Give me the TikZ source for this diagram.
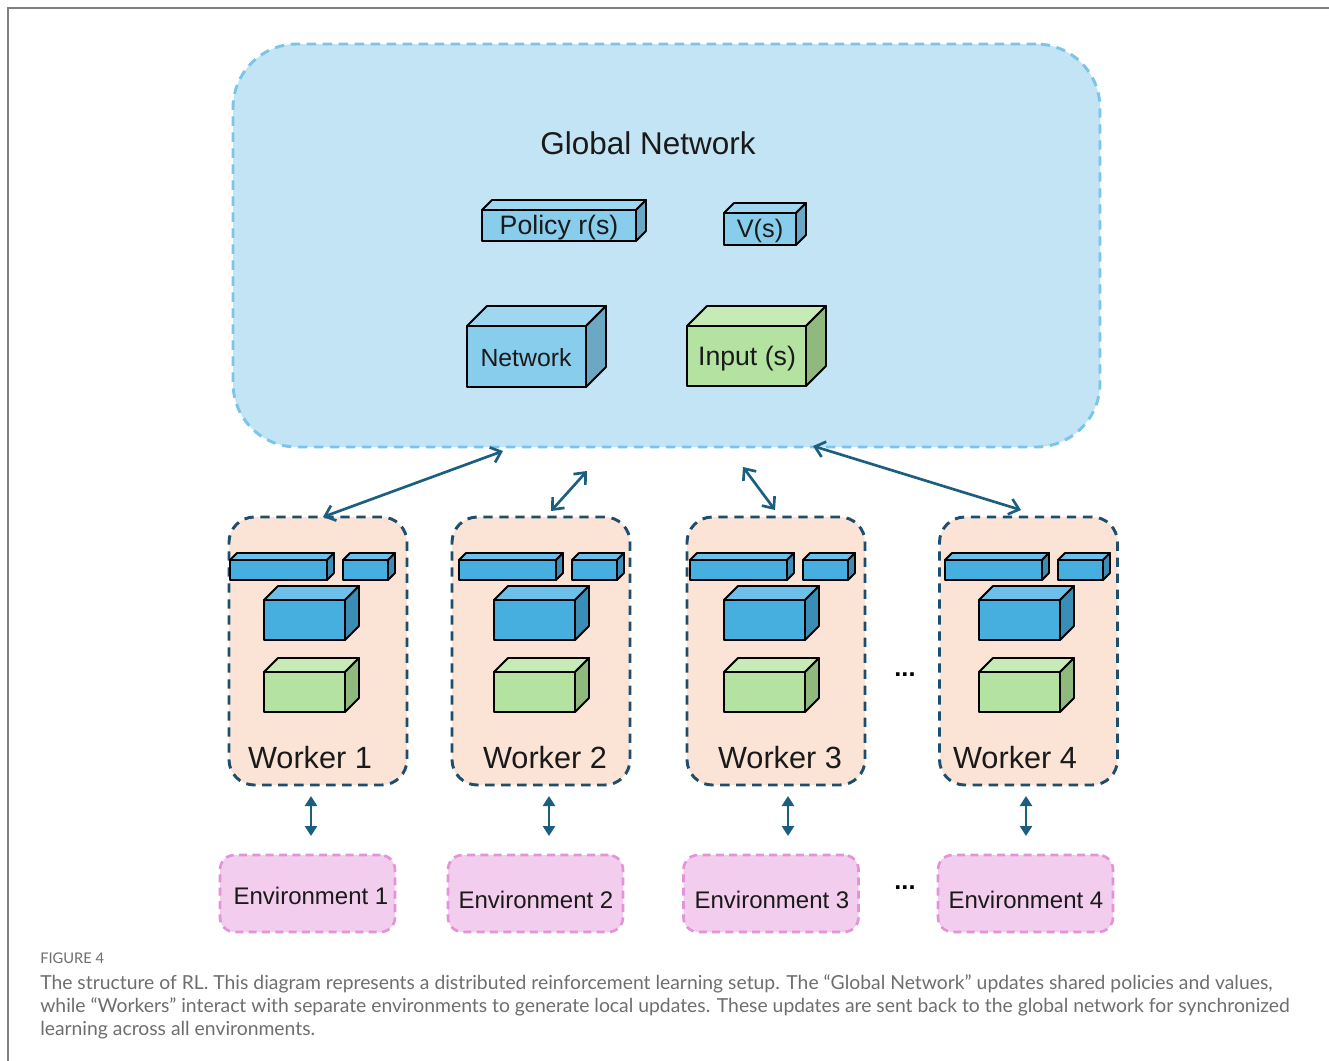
\documentclass[tikz,border=0pt]{standalone}
\usepackage{fontspec}
\setmainfont{Liberation Sans}
\newfontfamily\capfont{Lato}
\usetikzlibrary{arrows.meta}
\definecolor{gfill}{HTML}{C2E4F4}
\definecolor{gline}{HTML}{7AC6EA}
\definecolor{wfill}{HTML}{FBE3D6}
\definecolor{wline}{HTML}{1E4E6B}
\definecolor{efill}{HTML}{F2CDEE}
\definecolor{eline}{HTML}{E593D9}
\definecolor{arr}{HTML}{1B5E80}
\definecolor{lbfront}{HTML}{88CDEB}
\definecolor{lbtop}{HTML}{9FD7F0}
\definecolor{lbside}{HTML}{6BA8C3}
\definecolor{bfront}{HTML}{47AEE0}
\definecolor{btop}{HTML}{6CC0EA}
\definecolor{bside}{HTML}{3A8DB5}
\definecolor{gnfront}{HTML}{B4E2A1}
\definecolor{gntop}{HTML}{C6EBB6}
\definecolor{gnside}{HTML}{8FB97D}
\definecolor{captxt}{HTML}{6E6E6E}
\definecolor{txt}{HTML}{1A1A1A}
\newcommand\drawcube[8]{%
  \filldraw[fill=#6,cubeline] (#1,#2) rectangle (#3,#4);
  \filldraw[fill=#7,cubeline] (#1,#2) -- (#1+#5,#2-#5) -- (#3+#5,#2-#5) -- (#3,#2) -- cycle;
  \filldraw[fill=#8,cubeline] (#3,#2) -- (#3+#5,#2-#5) -- (#3+#5,#4-#5) -- (#3,#4) -- cycle;
}
\begin{document}
\begin{tikzpicture}[x=0.75pt,y=-0.75pt,
  cubeline/.style={draw=black,line width=1.4pt,line join=round},
  globalbox/.style={draw=gline,fill=gfill,line width=2.2pt,dash pattern=on 7pt off 5pt,rounded corners=48pt},
  workerbox/.style={draw=wline,fill=wfill,line width=2.2pt,dash pattern=on 7pt off 5pt,rounded corners=19pt,minimum width=133.5pt,minimum height=201pt,inner sep=0pt},
  envbox/.style={draw=eline,fill=efill,line width=2pt,dash pattern=on 6pt off 4pt,rounded corners=11pt,minimum width=131.25pt,minimum height=57.75pt,inner sep=0pt},
  darrow/.style={draw=arr,line width=2pt,{Straight Barb[length=7pt,width=12pt,line width=2pt]}-{Straight Barb[length=7pt,width=12pt,line width=2pt]}},
  varrow/.style={draw=arr,line width=2.2pt,{Triangle[length=7.5pt,width=9pt]}-{Triangle[length=7.5pt,width=9pt]}},
  lbl/.style={text=txt,inner sep=0pt},
  wlabel/.style={lbl,font=\fontsize{23}{27}\selectfont},
  elabel/.style={lbl,font=\fontsize{18}{22}\selectfont},
  dots/.style={font=\fontsize{19}{21}\selectfont\bfseries,inner sep=0pt},
  captext/.style={font=\capfont\fontsize{14.5}{17}\selectfont,text=captxt,anchor=mid west,inner sep=0pt}
]
\useasboundingbox (0,0) rectangle (1329,1061);
\fill[white] (0,0) rectangle (1329,1061);
\draw[gray,line width=1.4pt] (8,1061) -- (8,8) -- (1329,8);

% global network
\node[globalbox,minimum width=650.25pt,minimum height=302.25pt] (global) at (666.5,245.5) {};
\node[lbl,font=\fontsize{23.6}{28}\selectfont] (gtitle) at (648,143) {Global Network};
\drawcube{482}{210}{636}{241}{10}{lbfront}{lbtop}{lbside}
\node[lbl,font=\fontsize{20}{24}\selectfont] (policy) at (559,228) {Policy r(s)};
\drawcube{724}{213}{796}{245}{10}{lbfront}{lbtop}{lbside}
\node[lbl,font=\fontsize{19}{23}\selectfont] (vs) at (760,231) {V(s)};
\drawcube{467}{326}{586}{387}{20}{lbfront}{lbtop}{lbside}
\node[lbl,font=\fontsize{18.6}{22}\selectfont] (network) at (526,358) {Network};
\drawcube{687}{326}{806}{386}{20}{gnfront}{gntop}{gnside}
\node[lbl,font=\fontsize{20}{24}\selectfont] (input) at (747,359) {Input (s)};

% workers
\node[workerbox] (w1) at (318,651) {};
\node[workerbox] (w2) at (541,651) {};
\node[workerbox] (w3) at (776,651) {};
\node[workerbox] (w4) at (1028.5,651) {};
\foreach \bx/\bb/\cx in {230/343/264, 459/572/494, 690/803/724, 945/1058/979}{
  \drawcube{\bx}{560}{\bx+97}{580}{7}{bfront}{btop}{bside}
  \drawcube{\bb}{560}{\bb+45}{580}{7}{bfront}{btop}{bside}
  \drawcube{\cx}{600}{\cx+81}{640}{14}{bfront}{btop}{bside}
  \drawcube{\cx}{672}{\cx+81}{712}{14}{gnfront}{gntop}{gnside}
}
\node[wlabel] (wl1) at (310,758) {Worker 1};
\node[wlabel] (wl2) at (545,758) {Worker 2};
\node[wlabel] (wl3) at (780,758) {Worker 3};
\node[wlabel] (wl4) at (1015,758) {Worker 4};
\node[dots] (dotsw) at (905,675) {...};

% environments
\node[envbox] (e1) at (307.5,893.5) {};
\node[envbox] (e2) at (535.5,893.5) {};
\node[envbox] (e3) at (771,893.5) {};
\node[envbox] (e4) at (1025.5,893.5) {};
\node[elabel] (el1) at (311,896) {Environment 1};
\node[elabel] (el2) at (536,900) {Environment 2};
\node[elabel] (el3) at (772,900) {Environment 3};
\node[elabel] (el4) at (1026,900) {Environment 4};
\node[dots] (dotse) at (905,888) {...};

% arrows global <-> workers
\coordinate (a1s) at (323,517);
\coordinate (a1e) at (503,451);
\coordinate (a2s) at (551,511);
\coordinate (a2e) at (587,471);
\coordinate (a3s) at (743,467);
\coordinate (a3e) at (775,510);
\coordinate (a4s) at (813,446);
\coordinate (a4e) at (1021,510);
\draw[darrow] (a1s) -- (a1e);
\draw[darrow] (a2s) -- (a2e);
\draw[darrow] (a3s) -- (a3e);
\draw[darrow] (a4s) -- (a4e);

% arrows workers <-> environments
\foreach \i/\x in {1/311, 2/549, 3/788, 4/1026}{
  \coordinate (v\i s) at (\x,796);
  \coordinate (v\i e) at (\x,836);
  \draw[varrow] (v\i s) -- (v\i e);
}

% caption
\node[captext,font=\capfont\fontsize{11}{13}\selectfont] (figlabel) at (40,960) {FIGURE 4};
\node[captext] (cap1) at (40,986) {The structure of RL. This diagram represents a distributed reinforcement learning setup. The “Global Network” updates shared policies and values,};
\node[captext] (cap2) at (40,1009) {while “Workers” interact with separate environments to generate local updates. These updates are sent back to the global network for synchronized};
\node[captext] (cap3) at (40,1032) {learning across all environments.};
\end{tikzpicture}
\end{document}
